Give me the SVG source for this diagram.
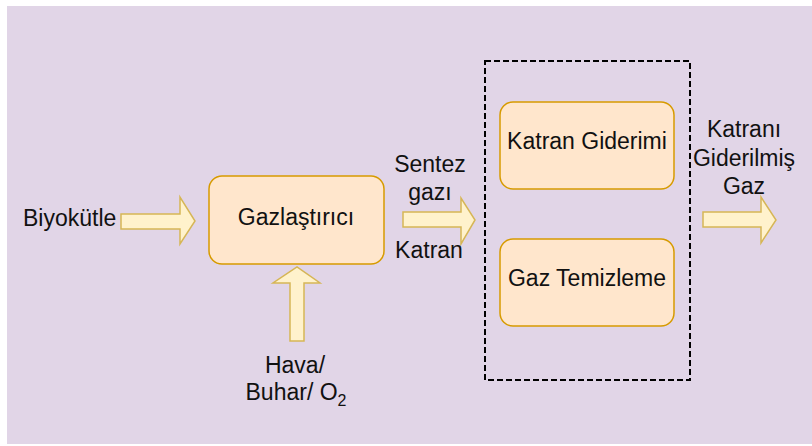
<svg xmlns="http://www.w3.org/2000/svg" width="812" height="446" viewBox="0 0 812 446">
  <style>
    .bg { fill: #e1d5e7; }
    .proc { fill: #ffe6cc; stroke: #d79b00; stroke-width: 1.5; }
    .flow { fill: #fff2cc; stroke: #d6b656; stroke-width: 1.5; stroke-linejoin: miter; }
    .group { fill: none; stroke: #000; stroke-width: 2; stroke-dasharray: 6 3; }
    text { font-family: "Liberation Sans", Arial, Helvetica, sans-serif; font-size: 23px; fill: #111; }
    .c { text-anchor: middle; }
  </style>

  <rect class="bg" x="7" y="6" width="805" height="438"/>

  <!-- process steps -->
  <g id="gazlastirici">
    <rect class="proc" x="209" y="176" width="175" height="88" rx="13"/>
    <text class="c" x="296" y="225">Gazlaştırıcı</text>
  </g>

  <g id="temizleme-grubu">
    <rect class="group" x="485" y="61" width="205" height="319"/>
  </g>

  <g id="katran-giderimi">
    <rect class="proc" x="500" y="102" width="174" height="87" rx="13"/>
    <text class="c" x="587" y="149">Katran Giderimi</text>
  </g>

  <g id="gaz-temizleme">
    <rect class="proc" x="500" y="239" width="174" height="87" rx="13"/>
    <text class="c" x="587" y="286">Gaz Temizleme</text>
  </g>

  <!-- flow arrows -->
  <g id="connectors">
    <polygon class="flow" points="121,214 180,214 180,197 195,221 180,244 180,229 121,229"/>
    <polygon class="flow" points="403,212 461,212 461,198 475,220 461,244 461,227 403,227"/>
    <polygon class="flow" points="290,341 290,283 273,283 297,267 320,283 304,283 304,341"/>
    <polygon class="flow" points="703,212 761,212 761,197 776,220 761,243 761,227 703,227"/>
  </g>

  <!-- stream labels -->
  <g id="labels">
    <text x="23" y="226">Biyokütle</text>
    <text class="c" x="430" y="172">Sentez</text>
    <text class="c" x="430" y="200">gazı</text>
    <text class="c" x="429" y="258">Katran</text>
    <text class="c" x="295" y="373">Hava/</text>
    <text class="c" x="296" y="400">Buhar/ O<tspan font-size="16" dy="6">2</tspan></text>
    <text class="c" x="744" y="137">Katranı</text>
    <text class="c" x="744" y="166">Giderilmiş</text>
    <text class="c" x="744" y="194">Gaz</text>
  </g>
</svg>
